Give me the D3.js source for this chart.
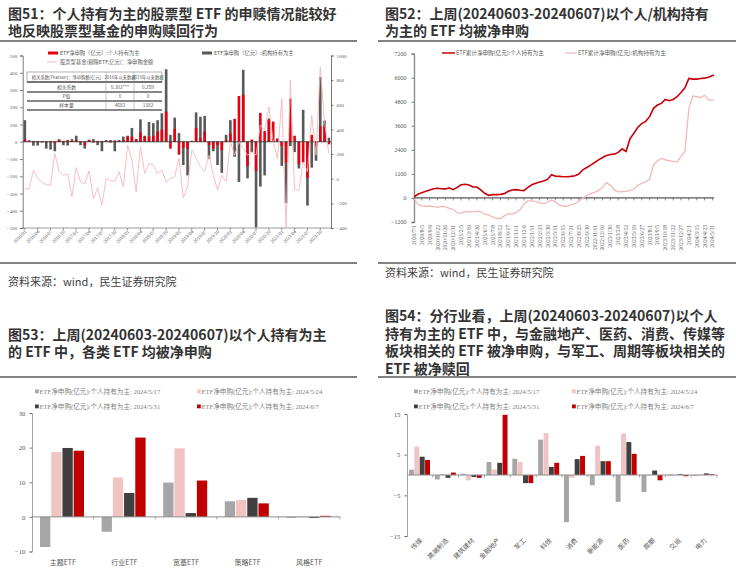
<!DOCTYPE html>
<html><head><meta charset="utf-8">
<script src="https://cdn.jsdelivr.net/npm/d3@7"></script>
<style>body{margin:0;background:#fff}svg{display:block}</style>
</head><body><svg id="c" width="736" height="568"></svg>
<script>
// ================= DATA =================
// Fig 51 (monthly, 2016/01 - 2021/12)
const ticks51 = ["2016/01","2016/04","2016/07","2016/10","2017/01","2017/04","2017/07","2017/10","2018/01","2018/04","2018/07","2018/10","2019/01","2019/04","2019/07","2019/10","2020/01","2020/04","2020/07","2020/10","2021/01","2021/04","2021/07","2021/10"];
const indiv51 = [15,5,5,5,3,-5,5,-8,10,5,10,5,10,3,-20,10,-5,5,5,3,-5,8,5,10,30,30,15,55,30,30,35,60,70,175,-40,75,-75,-35,-40,5,80,20,60,-20,-40,-20,-50,10,48,133,265,273,-140,13,-170,167,62,125,117,15,-25,-120,250,35,-130,-120,-210,40,-25,90,90,-15];
const inst51 = [125,8,-23,-22,-5,-40,-45,-55,15,-20,-22,15,35,-20,-40,12,15,-20,-55,10,10,-55,10,30,35,80,15,130,35,115,108,125,165,420,40,140,50,-135,-195,5,170,145,150,-100,-55,-135,-180,40,125,-87,-233,417,-212,-60,-496,-260,-195,135,0,20,-140,-355,-25,-60,-155,185,-370,-150,-110,375,123,23];
const stockFund51 = [-82,-85,70,5,-30,-48,-52,205,56,27,38,-146,90,-25,-42,64,-160,-78,-214,2,-19,-19,56,-65,272,150,-106,259,43,124,110,43,70,-30,2,16,164,-154,-65,232,164,100,56,191,29,-92,29,-25,299,191,299,245,191,218,191,434,393,582,299,164,650,-390,798,-92,-92,137,56,515,191,906,461,205];
const names51 = ["ETF净申购（亿元）:个人持有为主","ETF净申购（亿元）:机构持有为主","股票型基金(剔除ETF,亿元)：净申购金额"];
const table51 = [
  ["相关系数[Pearson]：净申购额[亿元]","2016年以来数据","2019年以来数据"],
  ["相关系数","0.302***","0.259"],
  ["P值","0","0"],
  ["样本量","4682","1382"]
];

// Fig 52 (cumulative net subscription, sampled every 12.5 trading days)
const ticks52 = ["2020/7/1","2020/8/5","2020/9/9","2020/10/22","2020/11/26","2020/12/31","2021/2/5","2021/3/19","2021/4/26","2021/6/3","2021/7/8","2021/8/12","2021/9/17","2021/11/1","2021/12/6","2022/1/11","2022/2/23","2022/3/30","2022/5/11","2022/6/15","2022/7/21","2022/8/25","2022/9/30","2022/11/11","2022/12/16","2023/1/30","2023/3/8","2023/4/12","2023/5/19","2023/6/27","2023/8/1","2023/9/5","2023/10/18","2023/11/22","2023/12/27","2024/2/1","2024/3/15","2024/4/23","2024/5/31"];
const indiv52 = [60,180,265,330,400,460,480,460,450,500,415,530,660,680,645,545,545,400,230,130,165,165,180,215,330,400,415,380,365,530,660,730,795,845,925,1160,1090,1075,1060,1060,1075,1110,1190,1405,1520,1640,1770,1900,2020,2120,2170,2185,2270,2450,2320,2945,3230,3525,3705,3820,4055,4470,4635,4715,4915,4850,4915,5050,5260,5495,5960,5925,5925,5960,5975,6025,6105,6125];
const inst52 = [-30,-315,-400,-415,-415,-430,-465,-415,-445,-515,-580,-745,-760,-680,-695,-695,-660,-680,-810,-845,-945,-1025,-1025,-895,-780,-795,-730,-595,-300,-150,-150,-180,-250,-280,-215,-100,-200,-350,-415,-415,-350,-280,-165,0,115,215,280,380,515,760,640,400,300,315,330,380,445,630,730,795,945,1655,1855,1970,1905,1855,1820,1790,2070,2320,4470,5080,5050,5000,5130,4880,4880,4880];
const names52 = ["ETF累计净申购(亿元):个人持有为主","ETF累计净申购(亿元):机构持有为主"];

// Fig 53
const cats53 = ["主题ETF","行业ETF","宽基ETF","策略ETF","风格ETF"];
const s53_0517 = [-8.7,-4.3,9.9,4.5,-0.3];
const s53_0524 = [18.7,11.4,19.8,4.9,0.1];
const s53_0531 = [19.9,6.9,1.1,5.5,-0.3];
const s53_0607 = [19.1,22.9,10.5,3.9,0.3];

// Fig 54
const cats54 = ["传媒","高端制造","建筑建材","金融地产","军工","科技","消费","新能源","医药","周期","交运","电力"];
const s54_0517 = [1.3,-1.1,0.3,3.2,4.0,8.7,-11.6,-2.5,-6.6,-4.2,0.1,-0.1];
const s54_0524 = [7.0,0.3,-1.3,1.4,3.2,10.3,-0.7,7.2,10.2,0.1,0.1,0.1];
const s54_0531 = [4.5,-0.7,-0.5,3.0,-2.0,2.0,3.9,3.4,8.1,1.1,0.2,0.4];
const s54_0607 = [3.7,0.6,-0.7,14.8,-2.0,3.0,4.7,3.4,5.2,-1.3,-0.3,0.2];

const seriesDates = ["2024/5/17","2024/5/24","2024/5/31","2024/6/7"];
const seriesPrefix = "ETF净申购(亿元):个人持有为主: ";

// ================= DRAW =================
const svg = d3.select("#c");
svg.append("rect").attr("width",736).attr("height",568).attr("fill","#fff");
const SANS = "'Noto Sans CJK SC','Noto Sans',sans-serif";
const SERIF = "'Liberation Serif','Noto Sans CJK SC',serif";
const AX = "#595959";
const C_LG = "#a6a6a6", C_PK = "#f2c3c3", C_DG = "#404040", C_RD = "#c00000";
const fmtInt = d3.format("d");

function titleBlock(lines, x, y0, dy) {
  const t = svg.append("text").attr("x", x).attr("y", y0)
    .attr("font-family", SANS).attr("font-weight", "bold").attr("font-size", 14)
    .attr("fill", "#333");
  lines.forEach((s, i) => t.append("tspan").attr("x", x).attr("y", y0 + i * dy).text(s));
}
function hline(x1, x2, y) {
  svg.append("line").attr("x1", x1).attr("x2", x2).attr("y1", y).attr("y2", y)
    .attr("stroke", "#595959").attr("stroke-width", 1.6);
}
titleBlock(["图51：个人持有为主的股票型  ETF  的申赎情况能较好","地反映股票型基金的申购赎回行为"], 8, 19, 17);
titleBlock(["图52：上周(20240603-20240607)以个人/机构持有","为主的 ETF 均被净申购"], 385, 19, 17);
titleBlock(["图53：上周(20240603-20240607)以个人持有为主","的 ETF 中，各类 ETF 均被净申购"], 8, 339.5, 17);
titleBlock(["图54：分行业看，上周(20240603-20240607)以个人","持有为主的 ETF 中，与金融地产、医药、消费、传媒等","板块相关的 ETF 被净申购，与军工、周期等板块相关的","ETF 被净赎回"], 385, 321, 17.5);
hline(0, 357, 41); hline(378, 736, 41);
hline(0, 357, 263); hline(378, 736, 263);
hline(0, 357, 377); hline(378, 736, 377);
svg.append("text").attr("x", 8).attr("y", 286).attr("font-family", SANS).attr("font-size", 11).attr("fill", "#404040").text("资料来源：wind，民生证券研究院");
svg.append("text").attr("x", 385).attr("y", 277).attr("font-family", SANS).attr("font-size", 11).attr("fill", "#404040").text("资料来源：wind，民生证券研究院");

function styleAxis(g, fs) {
  g.selectAll("path,line").attr("stroke", AX).attr("stroke-width", 0.8);
  g.selectAll("text").attr("font-family", SERIF).attr("font-size", fs).attr("fill", AX);
}

// ---------- Fig 51 ----------
(function () {
  const months = d3.timeMonths(new Date(2016, 0, 1), new Date(2022, 0, 1)).map(d3.timeFormat("%Y/%m"));
  const x = d3.scaleBand().domain(months).range([22.7, 331]);
  const yL = d3.scaleLinear().domain([-500, 500]).range([228, 55.5]);
  const yR = d3.scaleLinear().domain([-400, 1000]).range([228, 55.5]);
  const g = svg.append("g");
  const bw = 2.6;
  const cx = d => x(d) + x.bandwidth() / 2;
  g.selectAll(".gb").data(months).enter().append("rect")
    .attr("x", (d) => cx(d) - bw / 2).attr("width", bw)
    .attr("y", (d, i) => yL(Math.max(0, inst51[i]))).attr("height", (d, i) => Math.abs(yL(inst51[i]) - yL(0)))
    .attr("fill", "#595959");
  g.selectAll(".rb").data(months).enter().append("rect")
    .attr("x", (d) => cx(d) - bw / 2).attr("width", bw)
    .attr("y", (d, i) => yL(Math.max(0, indiv51[i]))).attr("height", (d, i) => Math.abs(yL(indiv51[i]) - yL(0)))
    .attr("fill", "#e60012");
  g.append("line").attr("x1", 22.7).attr("x2", 331).attr("y1", yL(0)).attr("y2", yL(0)).attr("stroke", "#333").attr("stroke-width", 0.9);
  g.append("path").datum(stockFund51)
    .attr("d", d3.line().x((d, i) => cx(months[i])).y(d => yR(d)))
    .attr("fill", "none").attr("stroke", "#f4b4b4").attr("stroke-width", 1).attr("opacity", 0.85);
  const la = g.append("g").attr("transform", "translate(22.7,0)").call(d3.axisLeft(yL).tickValues(d3.range(-500, 501, 100)).tickFormat(fmtInt).tickSize(2.5).tickPadding(3));
  styleAxis(la, 5);
  const ra = g.append("g").attr("transform", "translate(331,0)").call(d3.axisRight(yR).tickValues(d3.range(-400, 1001, 200)).tickFormat(fmtInt).tickSize(2.5).tickPadding(3));
  styleAxis(ra, 5);
  // x labels
  ticks51.forEach(t => {
    const px = cx(t);
    g.append("line").attr("x1", px).attr("x2", px).attr("y1", 228).attr("y2", 230).attr("stroke", AX).attr("stroke-width", 0.6);
    g.append("text").attr("transform", `translate(${px + 2},232) rotate(-45)`).attr("text-anchor", "end")
      .attr("font-family", SERIF).attr("font-size", 5).attr("fill", AX).text(t);
  });
  g.append("line").attr("x1", 22.7).attr("x2", 331).attr("y1", 228).attr("y2", 228).attr("stroke", AX).attr("stroke-width", 0.6);
  // legend
  const lg = g.append("g").attr("font-family", SANS).attr("font-size", 5.3).attr("fill", AX);
  lg.append("rect").attr("x", 48).attr("y", 51.5).attr("width", 10).attr("height", 3).attr("fill", "#e60012");
  lg.append("text").attr("x", 60).attr("y", 55).text(names51[0]);
  lg.append("rect").attr("x", 202).attr("y", 51.5).attr("width", 10).attr("height", 3).attr("fill", "#595959");
  lg.append("text").attr("x", 214).attr("y", 55).text(names51[1]);
  lg.append("line").attr("x1", 47).attr("x2", 57).attr("y1", 62).attr("y2", 62).attr("stroke", "#f4b4b4").attr("stroke-width", 1);
  lg.append("text").attr("x", 60).attr("y", 64).text(names51[2]);
  // table
  const tx = [27, 106, 134, 162], ty = [72, 82, 92, 101, 110];
  const tg = g.append("g");
  tg.append("rect").attr("x", 27).attr("y", 72).attr("width", 135).attr("height", 38).attr("fill", "#fff");
  tg.append("rect").attr("x", 27).attr("y", 72).attr("width", 135).attr("height", 10).attr("fill", "none").attr("stroke", "#666").attr("stroke-width", 0.5);
  [82, 92, 101, 110].forEach(y => tg.append("line").attr("x1", 27).attr("x2", 162).attr("y1", y).attr("y2", y).attr("stroke", "#111").attr("stroke-width", 1.2));
  [106, 134].forEach(xx => tg.append("line").attr("x1", xx).attr("x2", xx).attr("y1", 72).attr("y2", 110).attr("stroke", "#888").attr("stroke-width", 0.5));
  table51.forEach((row, r) => row.forEach((c, k) => {
    tg.append("text").attr("x", (tx[k] + tx[k + 1]) / 2).attr("y", (ty[r] + ty[r + 1]) / 2 + 1.8)
      .attr("text-anchor", "middle").attr("font-family", SANS).attr("font-size", r === 0 ? 4.3 : 4.8).attr("fill", "#555").text(c);
  }));
})();

// ---------- Fig 52 ----------
(function () {
  const x = d3.scaleLinear().domain([0, 955]).range([414, 714]);
  const y = d3.scaleLinear().domain([-1200, 7200]).range([222, 53.6]);
  const days = d3.range(indiv52.length - 1).map(k => k * 12.5).concat([955]);
  const g = svg.append("g");
  const ya = g.append("g").attr("transform", "translate(414,0)").call(d3.axisLeft(y).tickValues(d3.range(-1200, 7201, 1200)).tickFormat(fmtInt).tickSize(2.5).tickPadding(5));
  styleAxis(ya, 6);
  ya.select(".domain").attr("stroke", "#8c8c8c").attr("stroke-width", 1.4);
  g.append("line").attr("x1", 414).attr("x2", 714).attr("y1", y(0)).attr("y2", y(0)).attr("stroke", "#595959").attr("stroke-width", 1.3);
  ticks52.forEach((t, i) => {
    const px = x(i * 25);
    g.append("line").attr("x1", px).attr("x2", px).attr("y1", y(0)).attr("y2", y(0) + 2.5).attr("stroke", "#595959").attr("stroke-width", 0.7);
    g.append("text").attr("transform", `translate(${px + 2},225) rotate(-90)`).attr("text-anchor", "end")
      .attr("font-family", SERIF).attr("font-size", 5.6).attr("fill", AX).text(t);
  });
  g.append("path").datum(inst52).attr("d", d3.line().x((d, i) => x(days[i])).y(d => y(d)).curve(d3.curveLinear))
    .attr("fill", "none").attr("stroke", "#f2b8b8").attr("stroke-width", 1.3);
  g.append("path").datum(indiv52).attr("d", d3.line().x((d, i) => x(days[i])).y(d => y(d)).curve(d3.curveLinear))
    .attr("fill", "none").attr("stroke", "#c8000a").attr("stroke-width", 1.6);
  const lg = g.append("g").attr("font-family", SANS).attr("font-size", 5.6).attr("fill", AX);
  lg.append("line").attr("x1", 442).attr("x2", 455).attr("y1", 53).attr("y2", 53).attr("stroke", "#c8000a").attr("stroke-width", 1.5);
  lg.append("text").attr("x", 456).attr("y", 55).text(names52[0]);
  lg.append("line").attr("x1", 565).attr("x2", 577).attr("y1", 53).attr("y2", 53).attr("stroke", "#f2b8b8").attr("stroke-width", 1.2);
  lg.append("text").attr("x", 578).attr("y", 55).text(names52[1]);
})();

// ---------- grouped bar helper ----------
function grouped(cfg) {
  const g = svg.append("g");
  const x0 = d3.scaleBand().domain(cfg.cats).range(cfg.xr);
  const x1 = d3.scaleBand().domain(d3.range(4)).range(cfg.inner).paddingInner(0.08);
  const y = d3.scaleLinear().domain(cfg.yd).range(cfg.yr);
  const cols = [C_LG, C_PK, C_DG, C_RD];
  cfg.series.forEach((s, k) => {
    g.selectAll(null).data(s).enter().append("rect")
      .attr("x", (d, i) => x0(cfg.cats[i]) + x1(k)).attr("width", x1.bandwidth())
      .attr("y", d => y(Math.max(0, d))).attr("height", d => Math.max(0.8, Math.abs(y(d) - y(0))))
      .attr("fill", cols[k]);
  });
  const ya = g.append("g").attr("transform", `translate(${cfg.xr[0]},0)`).call(d3.axisLeft(y).tickValues(cfg.ticks).tickSize(2.5).tickPadding(4));
  styleAxis(ya, 6.8);
  ya.select(".domain").attr("stroke", "#8c8c8c");
  g.append("line").attr("x1", cfg.xr[0]).attr("x2", cfg.xr[1]).attr("y1", y(0)).attr("y2", y(0)).attr("stroke", "#8c8c8c").attr("stroke-width", 1);
  cfg.cats.forEach((c, i) => {
    const bx = x0(c) + x0.bandwidth();
    g.append("line").attr("x1", bx).attr("x2", bx).attr("y1", y(0)).attr("y2", y(0) + 2.5).attr("stroke", "#8c8c8c").attr("stroke-width", 0.8);
    const cx = x0(c) + x0.bandwidth() / 2;
    if (cfg.rotate) {
      g.append("text").attr("transform", `translate(${cx + 3},${cfg.labelY}) rotate(-45)`).attr("text-anchor", "end")
        .attr("font-family", SANS).attr("font-size", 6.5).attr("fill", AX).text(c);
    } else {
      g.append("text").attr("x", cx).attr("y", cfg.labelY).attr("text-anchor", "middle")
        .attr("font-family", SANS).attr("font-size", 7).attr("fill", AX).text(c);
    }
  });
  // legend
  const lx = cfg.legendX, ly = cfg.legendY;
  seriesDates.forEach((d, k) => {
    const px = lx[k % 2], py = ly[Math.floor(k / 2)];
    g.append("rect").attr("x", px).attr("y", py - 4).attr("width", 3.8).attr("height", 3.8).attr("fill", cols[k]);
    g.append("text").attr("x", px + 4.5).attr("y", py).attr("font-family", SERIF).attr("font-size", 6.6).attr("fill", "#7f7f7f").text(seriesPrefix + d);
  });
}
grouped({
  cats: cats53, series: [s53_0517, s53_0524, s53_0531, s53_0607],
  xr: [32, 340], inner: [8, 52], yd: [-10, 30], yr: [551.5, 413], ticks: [-10, 0, 10, 20, 30],
  labelY: 565, rotate: false, legendX: [35, 197], legendY: [393.5, 408.5]
});
grouped({
  cats: cats54, series: [s54_0517, s54_0524, s54_0531, s54_0607],
  xr: [407, 717], inner: [2, 23], yd: [-15, 15], yr: [536, 414], ticks: [-15, -5, 5, 15],
  labelY: 541, rotate: true, legendX: [414, 572], legendY: [393.5, 408.5]
});
</script></body></html>
